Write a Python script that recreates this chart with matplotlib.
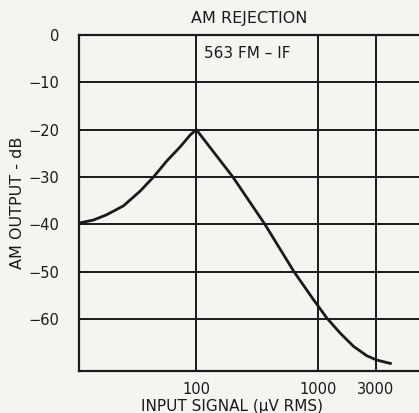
import numpy as np
import matplotlib.pyplot as plt

# values (log x axis)
signal_uv = [11.0, 14.2, 18.2, 25.1, 34.4, 44.4, 57.2, 73.8, 89.2, 100,
             200, 367, 637, 921, 1188, 1531, 1973, 2545, 3078, 3966]
output_db = [-39.7, -39.1, -38.0, -36.1, -33.0, -30.0, -26.6, -23.6, -21.1, -20.0,
             -30.0, -40.0, -50.0, -55.9, -59.8, -63.0, -65.8, -67.8, -68.7, -69.4]

y_ticks = [0, -10, -20, -30, -40, -50, -60]
x_ticks = [100, 1000, 3000]
x_labels = ['100', '1000', '3000']

plt.rcParams['font.family'] = ['DejaVu Sans']
bg = '#f4f4f1'
ink = '#1a1a1a'

fig = plt.figure(figsize=(4.19, 4.13), dpi=100, facecolor=bg)
ax = fig.add_axes([79 / 419, 1 - 371 / 413, 346 / 419, 336 / 413], facecolor=bg)

ax.set_xscale('log')
ax.set_xlim(10.8, 7650)
ax.set_ylim(-71, 0)

for v in x_ticks:
    ax.axvline(v, color=ink, lw=1.4)
for v in y_ticks[1:]:
    ax.axhline(v, color=ink, lw=1.4)

ax.plot(signal_uv, output_db, color=ink, lw=2)

ax.set_xticks(x_ticks)
ax.set_xticklabels(x_labels)
ax.minorticks_off()
ax.set_yticks(y_ticks)
ax.set_yticklabels([str(v).replace('-', '\u2212') for v in y_ticks])
ax.tick_params(length=0, labelsize=10.5, colors=ink)
ax.tick_params(axis='y', pad=14)
ax.tick_params(axis='x', pad=8)
for s in ax.spines.values():
    s.set_color(ink)
    s.set_linewidth(1.6)

ax.text(116, -4.0, '563 FM \u2013 IF', fontsize=11, color=ink, va='center')
fig.text(249 / 419, 1 - 18 / 413, 'AM REJECTION', ha='center', va='center',
         fontsize=11.5, color=ink)
fig.text(232 / 419, 1 - 406 / 413, 'INPUT SIGNAL (\u03bcV RMS)', ha='center',
         va='center', fontsize=11, color=ink)
fig.text(18 / 419, 1 - 203 / 413, 'AM OUTPUT - dB', ha='center', va='center',
         rotation=90, fontsize=11.5, color=ink)

fig.savefig('out.png', dpi=100, facecolor=bg)
